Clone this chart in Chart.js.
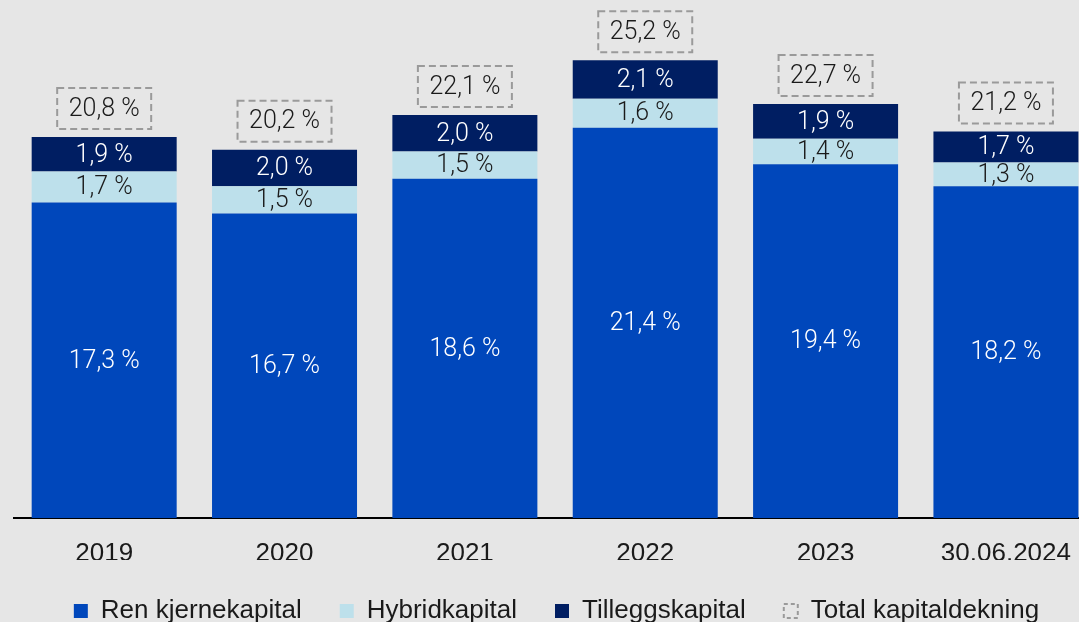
<!DOCTYPE html>
<html>
<head>
<meta charset="utf-8">
<script src="https://cdn.jsdelivr.net/npm/chart.js@4.4.1/dist/chart.umd.min.js"></script>
<style>
  html, body { margin: 0; padding: 0; background: #e6e6e6; }
  #wrap { width: 1079px; height: 622px; overflow: hidden; position: relative; background: #e6e6e6; }
  #kapital { display: block; }
</style>
</head>
<body>
<div id="wrap">
  <canvas id="kapital" width="1099" height="634"></canvas>
</div>
<script>
var years = ["2019", "2020", "2021", "2022", "2023", "30.06.2024"];
var renKjerne = [17.3, 16.7, 18.6, 21.4, 19.4, 18.2];
var hybrid = [1.7, 1.5, 1.5, 1.6, 1.4, 1.3];
var tillegg = [1.9, 2.0, 2.0, 2.1, 1.9, 1.7];
var totalKapital = [20.8, 20.2, 22.1, 25.2, 22.7, 21.2];

var labelColors = ["#ffffff", "#1a1a1a", "#ffffff"];

function pct(v) {
  return v.toFixed(1).replace(".", ",") + " %";
}

// values inside each segment + dashed total box above each stack
var barLabels = {
  id: "barLabels",
  afterDatasetsDraw: function(chart) {
    var ctx = chart.ctx;
    ctx.save();
    ctx.textAlign = "center";
    ctx.textBaseline = "middle";
    ctx.font = "300 25px Roboto";
    chart.data.datasets.forEach(function(ds, i) {
      chart.getDatasetMeta(i).data.forEach(function(bar, j) {
        ctx.fillStyle = labelColors[i];
        ctx.fillText(pct(ds.data[j]), bar.x, (bar.y + bar.base) / 2 + 1);
      });
    });

    var top = chart.getDatasetMeta(chart.data.datasets.length - 1).data;
    top.forEach(function(bar, j) {
      var w = 94, h = 41;
      var bottom = bar.y - 8;
      ctx.setLineDash([7, 4]);
      ctx.strokeStyle = "#9a9a9a";
      ctx.lineWidth = 2;
      ctx.strokeRect(bar.x - w / 2, bottom - h, w, h);
      ctx.setLineDash([]);
      ctx.fillStyle = "#1a1a1a";
      ctx.fillText(pct(totalKapital[j]), bar.x, bottom - h / 2 + 1);
    });
    ctx.restore();
  }
};

new Chart("kapital", {
  type: "bar",
  data: {
    labels: years,
    datasets: [
      { label: "Ren kjernekapital", data: renKjerne, backgroundColor: "#0047bb" },
      { label: "Hybridkapital", data: hybrid, backgroundColor: "#bde0eb" },
      { label: "Tilleggskapital", data: tillegg, backgroundColor: "#001e62" }
    ]
  },
  options: {
    responsive: false,
    animation: false,
    layout: { padding: { left: 14, right: 0, top: 0, bottom: 0 } },
    datasets: {
      bar: { categoryPercentage: 1.0, barPercentage: 0.804 }
    },
    scales: {
      x: {
        stacked: true,
        grid: { display: false, drawTicks: false },
        border: { display: true, color: "#000000", width: 2 },
        ticks: {
          color: "#1a1a1a",
          padding: 28,
          font: { family: "'Liberation Sans', Arial, sans-serif", size: 26, lineHeight: 0.6 }
        },
        afterFit: function(scale) {
          scale.height = 42;
        }
      },
      y: {
        stacked: true,
        display: false,
        min: 0,
        max: 28.41
      }
    },
    plugins: {
      tooltip: { enabled: false },
      legend: {
        position: "bottom",
        onClick: null,
        labels: {
          boxWidth: 14,
          boxHeight: 14,
          padding: 38,
          color: "#1a1a1a",
          font: { family: "'Liberation Sans', Arial, sans-serif", size: 26, lineHeight: 0.8 },
          generateLabels: function(chart) {
            var items = Chart.defaults.plugins.legend.labels.generateLabels(chart);
            items.push({
              text: "Total kapitaldekning",
              fillStyle: "rgba(0,0,0,0)",
              strokeStyle: "#9a9a9a",
              lineWidth: 2,
              lineDash: [4, 3],
              fontColor: "#1a1a1a",
              hidden: false
            });
            return items;
          }
        }
      }
    }
  },
  plugins: [barLabels]
});
</script>
</body>
</html>
